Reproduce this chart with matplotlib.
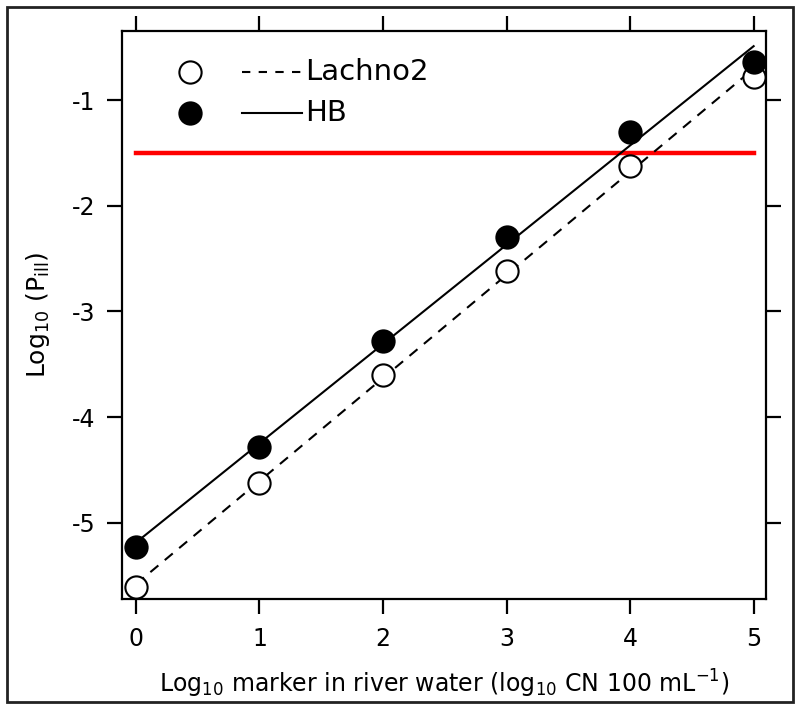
import numpy as np
import matplotlib
matplotlib.use("Agg")
import matplotlib.pyplot as plt
from matplotlib.patches import Rectangle

plt.rcParams['font.family'] = ['DejaVu Sans']
plt.rcParams['mathtext.default'] = 'regular'
plt.rcParams['axes.unicode_minus'] = False

# Data
x_vals = [0, 1, 2, 3, 4, 5]
lachno2 = [-5.61, -4.62, -3.60, -2.62, -1.62, -0.78]
hb = [-5.23, -4.28, -3.28, -2.30, -1.30, -0.64]
threshold = -1.5
threshold_x = [0, 5]
x_ticks = [0, 1, 2, 3, 4, 5]
y_ticks = [-5, -4, -3, -2, -1]
series_names = ["Lachno2", "HB"]

fig = plt.figure(figsize=(8, 7.1), dpi=100)
ax = fig.add_axes([122/800, 1 - 599/710, (766 - 122)/800, (599 - 31)/710])

x = np.array(x_vals, dtype=float)
xf = np.array([0.0, 5.0])
p_l = np.polyfit(x, lachno2, 1)
p_h = np.polyfit(x, hb, 1)

ax.plot(threshold_x, [threshold, threshold], color='#ff0000', lw=3.2, zorder=1)
ax.plot(xf, np.polyval(p_h, xf), color='black', lw=1.5, zorder=2)
ax.plot(xf, np.polyval(p_l, xf), color='black', lw=1.5, ls=(0, (5, 4)), zorder=2)
ax.plot(x, lachno2, 'o', ms=16, mfc='white', mec='black', mew=1.5, ls='none', zorder=3)
ax.plot(x, hb, 'o', ms=16, mfc='black', mec='black', mew=1.5, ls='none', zorder=3)

ax.set_xlim(-0.113, 5.1)
ax.set_ylim(-5.72, -0.347)
ax.set_xticks(x_ticks)
ax.set_yticks(y_ticks)
ax.tick_params(direction='out', length=11, width=1.6, labelsize=17, pad=9,
               top=True, right=True, labeltop=False, labelright=False)
ax.tick_params(axis='y', pad=8)
for s in ax.spines.values():
    s.set_linewidth(1.6)

ax.set_xlabel(r'Log$_{10}$ marker in river water (log$_{10}$ CN 100 mL$^{-1}$)', fontsize=17, labelpad=12)
ax.set_ylabel(r'Log$_{10}$ (P$_{ill}$)', fontsize=18, labelpad=14)

# Legend (manual, in axes coordinates)
tr = ax.transAxes
def px2ax(px, py):
    return ((px - 122) / (766 - 122), (599 - py) / (599 - 31))

for (py, name, mfc, ls) in [(72, series_names[0], 'white', (0, (4, 4))), (113, series_names[1], 'black', '-')]:
    mx, my = px2ax(190, py)
    ax.plot([mx], [my], 'o', ms=16, mfc=mfc, mec='black', mew=1.5, transform=tr, clip_on=False)
    l0, _ = px2ax(242, py)
    l1, _ = px2ax(302, py)
    ax.plot([l0, l1], [my, my], color='black', lw=1.5, ls=ls, transform=tr)
    tx, _ = px2ax(305, py)
    ax.text(tx, my, name, transform=tr, fontsize=21, va='center', ha='left')

fig.patches.append(Rectangle((7/800, 1 - 702/710), (793 - 7)/800, (702 - 7)/710,
                             transform=fig.transFigure, fill=False, lw=2, ec='#222222'))

fig.savefig('out.png', dpi=100)
